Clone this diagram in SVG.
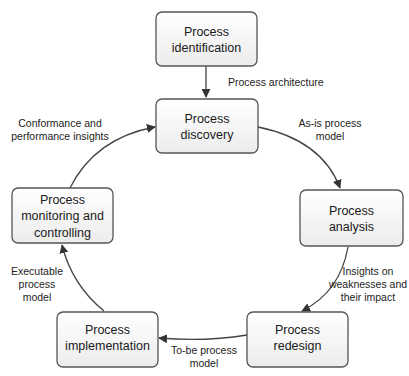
<svg xmlns="http://www.w3.org/2000/svg" width="409" height="376" viewBox="0 0 409 376">
<style>
.box{fill:url(#g);stroke:#555;stroke-width:1.3}
.nt{font-family:"Liberation Sans",Arial,sans-serif;font-size:12.5px;fill:#1a1a1a;text-anchor:middle}
.lb{font-family:"Liberation Sans",Arial,sans-serif;font-size:10.5px;fill:#222;text-anchor:middle}
.c{fill:none;stroke:#444;stroke-width:1.3}
</style>
<defs>
<linearGradient id="g" x1="0" y1="0" x2="0" y2="1">
<stop offset="0" stop-color="#ffffff"/>
<stop offset="1" stop-color="#ececec"/>
</linearGradient>
<marker id="a" viewBox="0 0 10 10" refX="9" refY="5" markerWidth="9" markerHeight="9" markerUnits="userSpaceOnUse" orient="auto">
<path d="M0,0 L10,5 L0,10 z" fill="#333"/>
</marker>
</defs>
<rect width="409" height="376" fill="#fff"/>
<g id="connectors">
<path class="c" d="M206,66 L206,97" marker-end="url(#a)"/>
<path class="c" d="M258,127 Q322,140 340,188" marker-end="url(#a)"/>
<path class="c" d="M348,247 Q340,292 302,311" marker-end="url(#a)"/>
<path class="c" d="M247,335 Q205,342 159,338" marker-end="url(#a)"/>
<path class="c" d="M104,311 Q72,285 62,245" marker-end="url(#a)"/>
<path class="c" d="M70,188 Q95,138 155,127" marker-end="url(#a)"/>
<text class="lb" x="228" y="86" style="text-anchor:start">Process architecture</text>
<text class="lb" x="330" y="127">As-is process</text>
<text class="lb" x="330" y="140">model</text>
<text class="lb" x="368" y="275">Insights on</text>
<text class="lb" x="368" y="288">weaknesses and</text>
<text class="lb" x="368" y="301">their impact</text>
<text class="lb" x="204" y="354">To-be process</text>
<text class="lb" x="204" y="367">model</text>
<text class="lb" x="37" y="275">Executable</text>
<text class="lb" x="37" y="288">process</text>
<text class="lb" x="37" y="301">model</text>
<text class="lb" x="60" y="127">Conformance and</text>
<text class="lb" x="60" y="140">performance insights</text>
</g>
<g id="identification">
<rect class="box" x="156" y="12" width="101" height="54" rx="6"/>
<text class="nt" x="206.5" y="36">Process</text>
<text class="nt" x="206.5" y="52">identification</text>
</g>
<g id="discovery">
<rect class="box" x="156" y="99" width="102" height="54" rx="6"/>
<text class="nt" x="207" y="123">Process</text>
<text class="nt" x="207" y="139">discovery</text>
</g>
<g id="analysis">
<rect class="box" x="300" y="190" width="103" height="56" rx="6"/>
<text class="nt" x="351.5" y="215">Process</text>
<text class="nt" x="351.5" y="231">analysis</text>
</g>
<g id="redesign">
<rect class="box" x="247" y="312" width="101" height="55" rx="6"/>
<text class="nt" x="297.5" y="334">Process</text>
<text class="nt" x="297.5" y="350">redesign</text>
</g>
<g id="implementation">
<rect class="box" x="57" y="312" width="101" height="55" rx="6"/>
<text class="nt" x="107.5" y="334">Process</text>
<text class="nt" x="107.5" y="350">implementation</text>
</g>
<g id="monitoring">
<rect class="box" x="12" y="188" width="101" height="55" rx="6"/>
<text class="nt" x="62.5" y="204">Process</text>
<text class="nt" x="62.5" y="220">monitoring and</text>
<text class="nt" x="62.5" y="237">controlling</text>
</g>
</svg>
